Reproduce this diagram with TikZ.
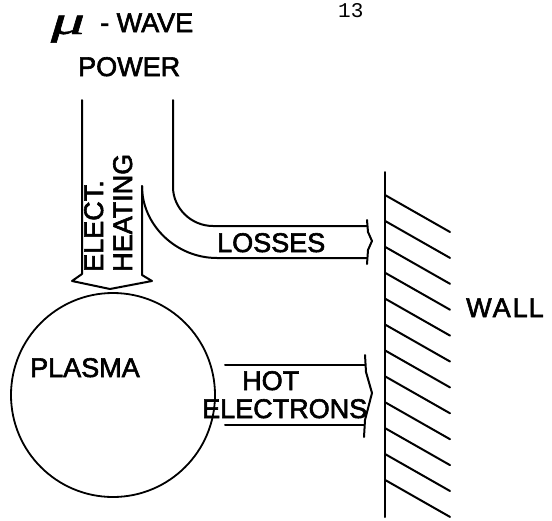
\documentclass[tikz,border=0pt]{standalone}
\usepackage{fontspec}
\setmainfont{Liberation Sans}
\newfontfamily\leroy{Liberation Sans}[FakeBold=2.2]
\newfontfamily\typefont{Liberation Mono}
\newfontfamily\handfont{Liberation Serif}[FakeBold=1]
\usetikzlibrary{positioning}
\tikzset{
  ink/.style={line width=2pt,line join=round,line cap=round},
  lettering/.style={font=\leroy\fontsize{27}{30}\selectfont,inner sep=0pt},
  hatch/.style={line width=2pt,line cap=round},
  plasmaball/.style={circle,draw,line width=1.8pt,minimum size=204pt,inner sep=0pt}
}

\begin{document}
\begin{tikzpicture}[x=1pt,y=-1pt]
    \path[use as bounding box] (0,0) rectangle (552,520);
    \node[font=\typefont\fontsize{21}{24}\selectfont,inner sep=0pt,anchor=base west] (pageno) at (338,17) {13};
    % labels
    \node[font=\handfont\itshape\fontsize{40}{42}\selectfont,inner sep=0pt,anchor=base,xscale=1.7] (mu) at (68,34) {μ};
    \node[lettering,anchor=base west] (wave) at (100,32) {- WAVE};
    \node[lettering,anchor=base west] (power) at (78,76) {POWER};
    \node[lettering,anchor=base west,rotate=90] (elect) at (103,272) {ELECT.};
    \node[lettering,anchor=base west,rotate=90] (heating) at (132,272) {HEATING};
    \node[lettering,anchor=base west] (losses) at (217,252) {LOSSES};
    \node[plasmaball] (plasma) at (113,395) {};
    \node[lettering,anchor=base west] (plasmalabel) at (30,377) {PLASMA};
    \node[lettering,anchor=base west] (hot) at (242,390) {HOT};
    \node[lettering,anchor=base west] (electrons) at (202,418) {ELECTRONS};
    \node[lettering,anchor=base west] (wall) at (466,317) {W\kern1pt A\kern2pt L\kern1pt L};
    % heating arrow
    \draw[ink] (82,100) -- (82,274) -- (72,281) -- (110,289) -- (152,281)
      -- (142,275) -- (142,186);
    % losses arrow
    \draw[ink] (173,100) -- (173,187) .. controls (173,208) and (191,226) .. (213,226)
      -- (367,226);
    \draw[ink] (142,186) .. controls (142,225) and (176,258) .. (217,258) -- (367,258);
    \draw[ink] (367,220) -- (368,232) -- (372,241) -- (368,250) -- (367,264);
    % hot electrons arrow
    \draw[ink] (225,365) -- (365,365);
    \draw[ink] (225,425) -- (364,425);
    \draw[ink] (365,355) -- (366,372) -- (372,393) -- (365,420) -- (364,437);
    % wall
    \draw[ink] (385,172) -- (385,517);
    \foreach \i in {0,...,11}
      \draw[hatch] (385,195+25.9*\i) -- (450,232+25.9*\i);
\end{tikzpicture}
\end{document}
